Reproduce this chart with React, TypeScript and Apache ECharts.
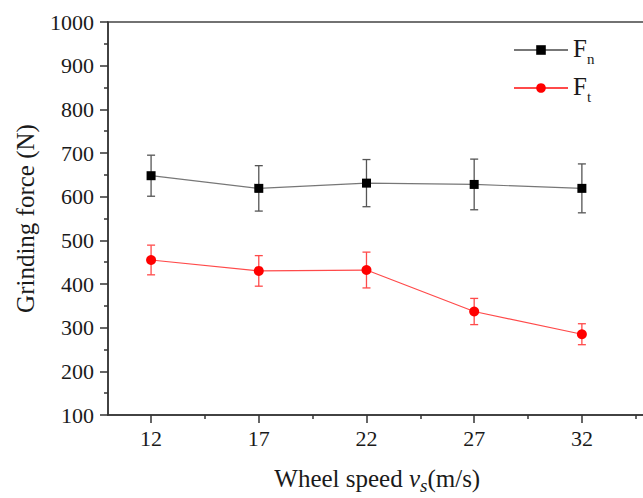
import React, { useEffect, useRef } from "react";
import * as echarts from "echarts";

const categories = [12, 17, 22, 27, 32];
const fnValues = [648, 619, 631, 628, 619];
const fnErrors = [47, 52, 54, 58, 56];
const ftValues = [455, 430, 432, 337, 285];
const ftErrors = [34, 35, 41, 30, 24];
const xMinorTicks = [14.5, 19.5, 24.5, 29.5, 34.5];
const seriesNames = ["Fn", "Ft"];

const FONT = "Liberation Serif";

function errorBarSeries(values: number[], errors: number[], color: string) {
  return {
    type: "custom",
    z: 1,
    silent: true,
    data: categories.map((c, i) => [c, values[i] - errors[i], values[i] + errors[i]]),
    encode: { x: 0, y: [1, 2] },
    renderItem: (params: any, api: any) => {
      const x = api.value(0);
      const lo = api.value(1);
      const hi = api.value(2);
      const pTop = api.coord([x, hi]);
      const pBot = api.coord([x, lo]);
      const w = 4;
      const style = { stroke: color, lineWidth: 1.3 };
      return {
        type: "group",
        children: [
          { type: "line", shape: { x1: pTop[0], y1: pTop[1], x2: pBot[0], y2: pBot[1] }, style },
          { type: "line", shape: { x1: pTop[0] - w, y1: pTop[1], x2: pTop[0] + w, y2: pTop[1] }, style },
          { type: "line", shape: { x1: pBot[0] - w, y1: pBot[1], x2: pBot[0] + w, y2: pBot[1] }, style },
        ],
      };
    },
  };
}

export default function App() {
  const ref = useRef<HTMLDivElement>(null);
  useEffect(() => {
    document.body.style.margin = "0";
    const chart = echarts.init(ref.current!, null, { renderer: "svg" });
    const axisColor = "#333";
    const labelStyle = { fontSize: 22, fontFamily: FONT, color: "#1a1a1a" };
    const nameStyle = { fontSize: 25, fontFamily: FONT, color: "#1a1a1a" };
    chart.setOption({
      animation: false,
      backgroundColor: "#fff",
      textStyle: { fontFamily: FONT },
      grid: {
        left: 108,
        top: 22,
        width: 538.5,
        height: 393,
        containLabel: false,
        outerBoundsMode: "none",
        show: true,
        borderColor: "#444",
        borderWidth: 1.5,
        backgroundColor: "transparent",
      },
      legend: {
        data: seriesNames,
        orient: "vertical",
        left: 508,
        top: 31,
        itemWidth: 54,
        itemHeight: 12,
        itemGap: 8,
        formatter: (name: string) => `{f|F}{s|${name.slice(1)}}`,
        textStyle: {
          fontFamily: FONT,
          rich: {
            f: { fontSize: 25, lineHeight: 28, fontFamily: FONT, color: "#1a1a1a", verticalAlign: "top" },
            s: { fontSize: 15, lineHeight: 16, fontFamily: FONT, color: "#1a1a1a", padding: [15, 0, 0, 0], verticalAlign: "top" },
          },
        },
      },
      xAxis: [
        {
          type: "value",
          min: 10,
          max: 35,
          position: "bottom",
          name: "{n|Wheel speed }{i|v}{sub|s}{n|(m/s)}",
          nameLocation: "middle",
          nameGap: 47,
          nameTextStyle: {
            ...nameStyle,
            rich: {
              n: { ...nameStyle },
              i: { ...nameStyle, fontStyle: "italic" },
              sub: { ...nameStyle, fontSize: 19, fontStyle: "italic", padding: [14, 0, 0, 0] },
            },
          },
          axisLine: { show: true, lineStyle: { color: axisColor, width: 1.5 } },
          axisTick: { show: true, length: 8, inside: false, customValues: categories, lineStyle: { color: axisColor, width: 1.5 } },
          axisLabel: {
            show: true,
            customValues: categories,
            margin: 12,
            formatter: (v: number) => `{a|${v}}`,
            rich: { a: { ...labelStyle } },
            ...labelStyle,
          },
          splitLine: { show: false },
        },
        {
          type: "value",
          min: 10,
          max: 35,
          position: "bottom",
          axisLine: { show: false },
          axisTick: { show: true, length: 4, customValues: xMinorTicks, lineStyle: { color: axisColor, width: 1.5 } },
          axisLabel: { show: false },
          splitLine: { show: false },
        },
      ],
      yAxis: {
        type: "value",
        min: 100,
        max: 1000,
        interval: 100,
        name: "{n|Grinding force (N)}",
        nameLocation: "middle",
        nameGap: 70,
        nameTextStyle: { ...nameStyle, rich: { n: { ...nameStyle } } },
        axisLine: { show: true, lineStyle: { color: axisColor, width: 1.5 } },
        axisTick: { show: true, length: 8, lineStyle: { color: axisColor, width: 1.5 } },
        minorTick: { show: true, splitNumber: 2, length: 4, lineStyle: { color: axisColor, width: 1.5 } },
        axisLabel: {
          margin: 14,
          formatter: (v: number) => `{a|${v}}`,
          rich: { a: { ...labelStyle } },
          ...labelStyle,
        },
        splitLine: { show: false },
      },
      series: [
        errorBarSeries(fnValues, fnErrors, "#555"),
        errorBarSeries(ftValues, ftErrors, "#ff4a4a"),
        {
          name: "Fn",
          type: "line",
          z: 3,
          xAxisIndex: 0,
          data: categories.map((c, i) => [c, fnValues[i]]),
          symbol: "rect",
          symbolSize: 9,
          itemStyle: { color: "#000" },
          lineStyle: { color: "#777", width: 1.2 },
        },
        {
          name: "Ft",
          type: "line",
          z: 3,
          xAxisIndex: 0,
          data: categories.map((c, i) => [c, ftValues[i]]),
          symbol: "circle",
          symbolSize: 10,
          itemStyle: { color: "#ff0000" },
          lineStyle: { color: "#ff4a4a", width: 1.2 },
        },
      ],
    });
    return () => chart.dispose();
  }, []);
  return <div ref={ref} style={{ width: 643, height: 498 }} />;
}
